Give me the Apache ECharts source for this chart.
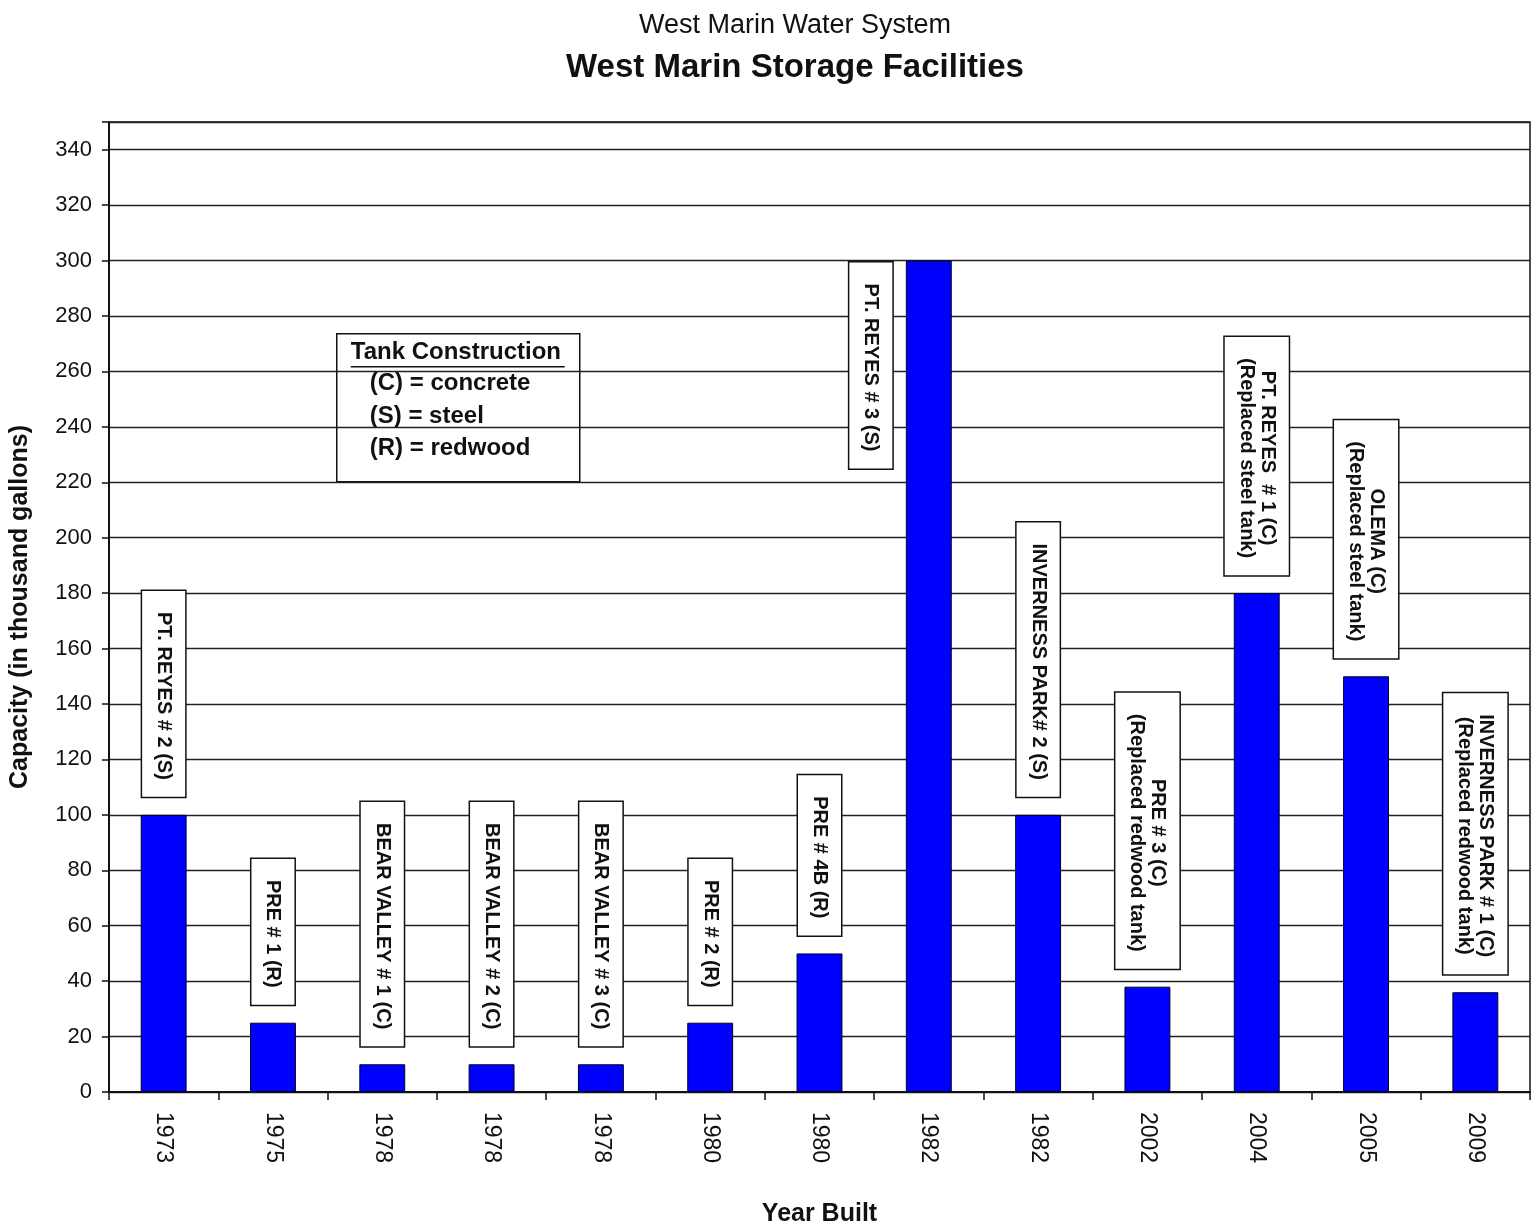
<!DOCTYPE html>
<html>
<head>
<meta charset="utf-8">
<script src="https://cdn.jsdelivr.net/npm/echarts@6/dist/echarts.min.js"></script>
<style>
  html, body { margin: 0; padding: 0; background: #fff; }
  #chart { width: 1537px; height: 1232px; }
</style>
</head>
<body>
<div id="chart"></div>
<script>
// Year each storage tank was built (one bar per tank)
const years = ['1973', '1975', '1978', '1978', '1978', '1980', '1980', '1982', '1982', '2002', '2004', '2005', '2009'];
// Capacity in thousand gallons
const capacity = [100, 25, 10, 10, 10, 25, 50, 300, 100, 38, 180, 150, 36];
// Tank names with construction type
const tankNames = [
  'PT. REYES # 2 (S)', 'PRE # 1 (R)', 'BEAR VALLEY # 1 (C)', 'BEAR VALLEY # 2 (C)',
  'BEAR VALLEY # 3 (C)', 'PRE # 2 (R)', 'PRE # 4B (R)', 'PT. REYES # 3 (S)',
  'INVERNESS PARK# 2 (S)', 'PRE # 3 (C)', 'PT. REYES  # 1 (C)', 'OLEMA (C)',
  'INVERNESS PARK # 1 (C)'
];
// Second line of the tank label, where a tank replaced an older one
const tankNotes = ['', '', '', '', '', '', '', '', '',
  '(Replaced redwood tank)', '(Replaced steel tank)', '(Replaced steel tank)', '(Replaced redwood tank)'];
// Construction key
const keyTitle = 'Tank Construction';
const keyLines = ['(C) = concrete', '(S) = steel', '(R) = redwood'];
// Capacity axis
const yMin = 0, yMax = 350, yStep = 20;

const FONT = '"Liberation Sans", Arial, Helvetica, sans-serif';

// The tallest tank's label sits beside its bar instead of above it
const besideIndex = 7;

const barData = capacity.map((v, i) => {
  if (i !== besideIndex) return v;
  return { value: v, label: { position: [-35, 2], align: 'left' } };
});

const chart = echarts.init(document.getElementById('chart'), null, { renderer: 'canvas' });

chart.setOption({
  backgroundColor: '#ffffff',
  animation: false,
  textStyle: { fontFamily: FONT },
  title: [
    {
      text: 'West Marin Water System',
      left: 790, top: 7, textAlign: 'center',
      textStyle: { fontFamily: FONT, fontSize: 27, fontWeight: 'normal', color: '#111' }
    },
    {
      text: 'West Marin Storage Facilities',
      left: 790, top: 46, textAlign: 'center',
      textStyle: { fontFamily: FONT, fontSize: 33, fontWeight: 'bold', color: '#111' }
    }
  ],
  grid: {
    left: 108, right: 7, top: 122, bottom: 139,
    show: true, borderColor: '#111', borderWidth: 1.5, backgroundColor: 'transparent'
  },
  xAxis: {
    type: 'category',
    data: years,
    name: 'Year Built',
    nameLocation: 'middle',
    nameGap: 110,
    nameTextStyle: { fontFamily: FONT, fontSize: 25, fontWeight: 'bold', color: '#111' },
    axisLine: { lineStyle: { color: '#111', width: 2 } },
    axisTick: { show: true, length: 8, lineStyle: { color: '#111', width: 1.5 } },
    axisLabel: {
      rotate: -90, margin: 20, fontFamily: FONT, fontSize: 23, color: '#111',
      interval: 0
    },
    splitLine: { show: false }
  },
  yAxis: {
    type: 'value',
    min: yMin, max: yMax, interval: yStep,
    name: 'Capacity (in thousand gallons)',
    nameLocation: 'middle',
    nameRotate: 90,
    nameGap: 76,
    nameTextStyle: { fontFamily: FONT, fontSize: 25, fontWeight: 'bold', color: '#111' },
    axisLine: { show: true, lineStyle: { color: '#111', width: 2 } },
    axisTick: { show: true, length: 7, lineStyle: { color: '#111', width: 1.5 } },
    axisLabel: {
      margin: 17, fontFamily: FONT, fontSize: 22, color: '#111',
      formatter: v => (v % yStep === 0 ? String(v) : '')
    },
    splitLine: { show: true, lineStyle: { color: '#222', width: 1.4 } }
  },
  series: [{
    type: 'bar',
    data: barData,
    barWidth: '42%',
    itemStyle: { color: '#0000ff', borderColor: '#00002a', borderWidth: 1 },
    label: {
      show: true,
      position: 'top',
      distance: 18,
      rotate: -90,
      align: 'right',
      verticalAlign: 'middle',
      backgroundColor: '#ffffff',
      borderColor: '#111',
      borderWidth: 1.5,
      padding: [11, 17, 11, 21],
      formatter: p => {
        const name = '{t|' + tankNames[p.dataIndex] + '}';
        const note = tankNotes[p.dataIndex];
        return note ? name + '\n{t|' + note + '}' : name;
      },
      rich: {
        t: {
          align: 'center', fontFamily: FONT, fontSize: 20, fontWeight: 'bold',
          lineHeight: 21, color: '#111'
        }
      }
    }
  }],
  graphic: [{
    type: 'group',
    left: 336, top: 333,
    children: [
      {
        type: 'rect',
        shape: { x: 0, y: 0, width: 243, height: 148 },
        style: { fill: '#fff', stroke: '#111', lineWidth: 1.5 }
      },
      {
        type: 'text', x: 14, y: 19,
        style: { text: keyTitle, font: 'bold 24px ' + FONT, fill: '#111', verticalAlign: 'middle' }
      },
      {
        type: 'line',
        shape: { x1: 14, y1: 33, x2: 228, y2: 33 },
        style: { stroke: '#111', lineWidth: 1.5 }
      },
      ...keyLines.map((line, i) => ({
        type: 'text', x: 33, y: 50 + i * 32.5,
        style: { text: line, font: 'bold 24px ' + FONT, fill: '#111', verticalAlign: 'middle' }
      }))
    ]
  }]
});
</script>
</body>
</html>
